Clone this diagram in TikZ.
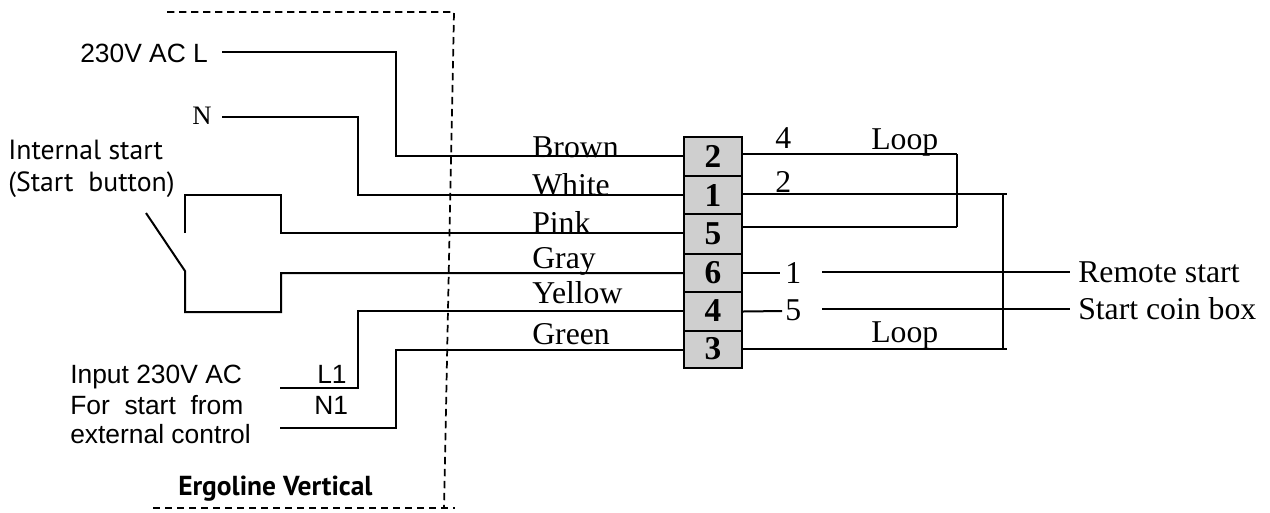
\documentclass[tikz,border=0pt]{standalone}
\usepackage{fontspec}
\setmainfont{Liberation Serif}
\newfontfamily\arialf{Liberation Sans}
\newfontfamily\dinf{PT Sans}
\tikzset{
  wire/.style={draw=black,line width=1.5pt,line join=miter},
  thinwire/.style={draw=black,line width=1.3pt},
  bound/.style={draw=black,line width=1.3pt,dash pattern=on 5.5pt off 3.5pt},
  term/.style={draw=black,line width=1.4pt,fill=black!19,minimum width=43.5pt,inner sep=0pt,
     font=\fontsize{25}{25}\selectfont\bfseries,anchor=center},
  serif/.style={inner sep=0pt,anchor=base west,font=\fontsize{23.8}{24}\selectfont},
  sans/.style={inner sep=0pt,anchor=base west,font=\arialf\fontsize{19.8}{20}\selectfont},
  din/.style={inner sep=0pt,anchor=base west,font=\dinf\fontsize{20.8}{21}\selectfont},
}
\begin{document}
\begin{tikzpicture}[x=0.75pt,y=-0.75pt]
\useasboundingbox (0,0) rectangle (1270,512);
% terminals
\node[term,minimum height=29.25pt] (t2) at (713,156.5) {\raisebox{-1.3pt}{2}};
\node[term,minimum height=28.5pt] (t1) at (713,195) {\raisebox{-.7pt}{1}};
\node[term,minimum height=29.75pt] (t5) at (713,234) {5};
\node[term,minimum height=28.5pt] (t6) at (713,273) {6};
\node[term,minimum height=29.25pt] (t4) at (713,311.5) {\raisebox{1.5pt}{4}};
\node[term,minimum height=27.75pt] (t3) at (713,349.5) {\raisebox{1.5pt}{3}};
% left labels
\node[sans] (lL) at (80,62) {230V AC L};
\node[serif,font=\fontsize{20}{20}\selectfont] (lN) at (192,124) {N};
\node[din] (lint1) at (8,159) {Internal start};
\node[din] (lint2) at (8,191) {(Start\ \ button)};
\node[sans] (lin1) at (70,383) {Input 230V AC};
\node[sans] (lin2) at (70,414) {For\ \ start\ \ from};
\node[sans] (lin3) at (70,443) {external control};
\node[sans] (lL1) at (317,383) {L1};
\node[sans] (lN1) at (314,414) {N1};
\node[din,font=\dinf\bfseries\fontsize{20.6}{21}\selectfont] (lerg) at (178,495) {Ergoline Vertical};
% wire colours
\node[serif] (cb) at (532,157) {Brown};
\node[serif] (cw) at (532,195) {White};
\node[serif] (cp) at (532,233) {Pink};
\node[serif] (cg) at (532,268) {Gray};
\node[serif] (cy) at (532,303) {Yellow};
\node[serif] (cgr) at (532,344) {Green};
% right labels
\node[serif] (n4) at (775,148) {4};
\node[serif] (n2) at (775,192) {2};
\node[serif] (nl1) at (871,149) {Loop};
\node[serif] (nl2) at (871,342) {Loop};
\node[serif] (n1) at (785,283) {1};
\node[serif] (n5) at (785,320) {5};
\node[serif] (rs) at (1078,282) {Remote start};
\node[serif] (sc) at (1078,319) {Start coin box};
% coordinates
\coordinate (a1) at (222,52); \coordinate (a2) at (396,52); \coordinate (a3) at (396,156);
\coordinate (b1) at (222,117); \coordinate (b2) at (358,117); \coordinate (b3) at (358,195);
\coordinate (c0) at (185,233); \coordinate (c1) at (185,195); \coordinate (c2) at (281,195); \coordinate (c3) at (281,233);
\coordinate (d0) at (146,213); \coordinate (d1) at (185,271); \coordinate (d2) at (185,312); \coordinate (d3) at (281,312); \coordinate (d4) at (281,273);
\coordinate (e1) at (280,388); \coordinate (e2) at (358,388); \coordinate (e3) at (358,311);
\coordinate (f1) at (280,428); \coordinate (f2) at (396,428); \coordinate (f3) at (396,350);
\coordinate (g1) at (742,154); \coordinate (g2) at (957,154); \coordinate (g3) at (957,227); \coordinate (g4) at (742,227);
\coordinate (h1) at (742,194); \coordinate (h2) at (1007,194); \coordinate (h3) at (1003,194); \coordinate (h4) at (1003,349); \coordinate (h5) at (1007,349); \coordinate (h6) at (742,349);
\coordinate (i1) at (780,273); \coordinate (j1) at (782,311);
\coordinate (k1) at (822,272); \coordinate (k2) at (1070,272);
\coordinate (m1) at (822,309); \coordinate (m2) at (1070,309);
\coordinate (q1) at (167,12); \coordinate (q2) at (454,12); \coordinate (q3) at (444,508);
\coordinate (r1) at (153,508); \coordinate (r2) at (455,508);
% boundary
\draw[bound] (q1) -- (q2) -- (q3);
\draw[bound] (r1) -- (r2);
% wires
\draw[wire] (a1) -- (a2) -- (a3) -- (a3 -| t2.west);
\draw[wire] (b1) -- (b2) -- (b3) -- (b3 -| t1.west);
\draw[wire] (c0) -- (c1) -- (c2) -- (c3) -- (c3 -| t5.west);
\draw[wire] (d0) -- (d1) -- (d2) -- (d3) -- (d4) -- (d4 -| t6.west);
\draw[wire] (e1) -- (e2) -- (e3) -- (e3 -| t4.west);
\draw[wire] (f1) -- (f2) -- (f3) -- (f3 -| t3.west);
\draw[wire] (g1) -- (g2);
\draw[wire] (g2) -- (g3);
\draw[thinwire] (g4) -- (g3);
\draw[thinwire] (h1) -- (h2);
\draw[wire] (h3) -- (h4);
\draw[wire] (h6) -- (h5);
\draw[wire] (t6.east) -- (i1);
\draw[wire] (t4.east) -- (j1);
\draw[wire] (k1) -- (k2);
\draw[wire] (m1) -- (m2);
\end{tikzpicture}
\end{document}
